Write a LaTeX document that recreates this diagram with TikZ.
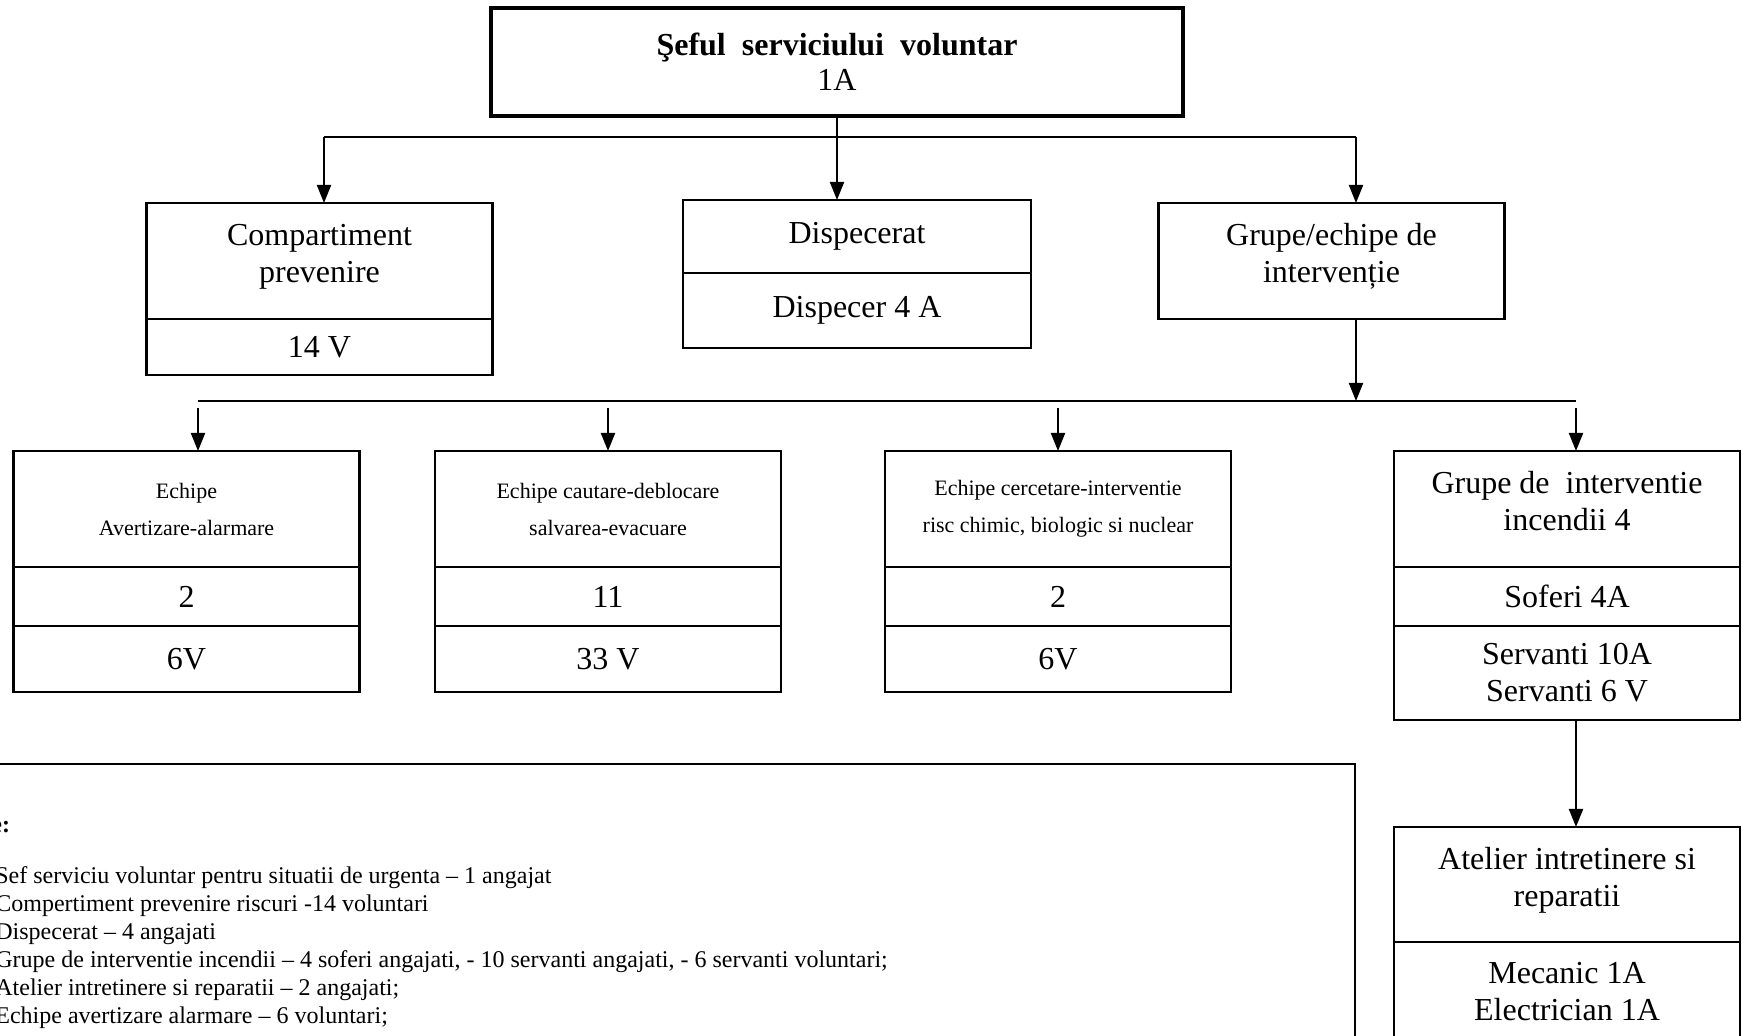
\documentclass[tikz,border=0pt]{standalone}
\usepackage{fontspec}
\setmainfont{Liberation Serif}
\usetikzlibrary{arrows.meta,positioning}
\newcommand{\lowstrut}{\rule[-8pt]{0pt}{0pt}}

\begin{document}
\begin{tikzpicture}
    [
        x=0.5pt, y=-0.5pt,
        Head/.style={rectangle,minimum width=346pt,minimum height=54pt,draw,line width=2pt,align=center,inner sep=0pt,outer sep=0pt,font=\fontsize{16}{17.5}\selectfont},
        Unit/.style={rectangle,minimum width=173pt,draw,line width=1.4pt,align=center,inner sep=0pt,outer sep=0pt,font=\fontsize{16}{18.5}\selectfont},
        Team/.style={Unit,font=\fontsize{11}{18.5}\selectfont},
        Flow/.style={-{Triangle[width=7pt,length=9pt]},line width=1pt},
        Bus/.style={line width=0.9pt},
        Note/.style={anchor=base west,inner sep=0pt,font=\fontsize{12}{14}\selectfont}
    ]
    \useasboundingbox (0,0) rectangle (1742,1036);
    \fill[white] (0,0) rectangle (1742,1036);

    \node[Head] (sef) at (837,62) {\textbf{Şeful~ serviciului~ voluntar}\\1A};

    \node[Unit,minimum height=58pt] (comp) at (319.5,261) {Compartiment\\prevenire\lowstrut};
    \node[Unit,minimum height=28pt,below=0pt of comp] (compNr) {14 V};
    \node[Unit,minimum width=174pt,minimum height=36.5pt] (disp) at (857,236.5) {Dispecerat};
    \node[Unit,minimum width=174pt,minimum height=37.5pt,below=0pt of disp] (dispNr) {Dispecer 4 A};
    \node[Unit,minimum height=58pt] (grupe) at (1331.5,261) {Grupe/echipe de\\intervenție\lowstrut};

    \node[Team,minimum height=58pt] (avert) at (186.5,509) {Echipe\\Avertizare-alarmare};
    \node[Unit,minimum height=29.5pt,below=0pt of avert] (avertNr) {2};
    \node[Unit,minimum height=33pt,below=0pt of avertNr] (avertVol) {6V};
    \node[Team,minimum height=58pt] (cautare) at (608,509) {Echipe cautare-deblocare\\salvarea-evacuare};
    \node[Unit,minimum height=29.5pt,below=0pt of cautare] (cautareNr) {11};
    \node[Unit,minimum height=33pt,below=0pt of cautareNr] (cautareVol) {33 V};
    \node[Team,minimum height=58pt] (cercet) at (1058,509) {Echipe cercetare-interventie\\risc chimic, biologic si nuclear};
    \node[Unit,minimum height=29.5pt,below=0pt of cercet] (cercetNr) {2};
    \node[Unit,minimum height=33pt,below=0pt of cercetNr] (cercetVol) {6V};
    \node[Unit,minimum height=58pt] (incendii) at (1567,509) {Grupe de~ interventie\\incendii 4\lowstrut};
    \node[Unit,minimum height=29.5pt,below=0pt of incendii] (soferi) {Soferi 4A};
    \node[Unit,minimum height=47pt,below=0pt of soferi] (servanti) {Servanti 10A\\Servanti 6 V};

    \node[Unit,minimum height=57.5pt] (atelier) at (1567,884.5) {Atelier intretinere si\\reparatii\lowstrut};
    \node[Unit,minimum height=50pt,below=0pt of atelier] (atelierStaff) {Mecanic 1A\\Electrician 1A};

    \coordinate (busA-west) at (324,137);
    \coordinate (busA-east) at (1356,137);
    \coordinate (busB-west) at (198,401);
    \coordinate (busB-east) at (1576,401);

    \draw[Bus] (busA-west) -- (busA-east);
    \draw[Flow] (sef.south) -- (sef.south |- disp.north);
    \draw[Flow] (busA-west) -- (busA-west |- comp.north);
    \draw[Flow] (busA-east) -- (busA-east |- grupe.north);
    \draw[Flow] (busA-east |- grupe.south) -- (busA-east |- busB-east);
    \draw[Bus] (busB-west) -- (busB-east);
    \draw[Flow] ([yshift=-3.5pt]busB-west) -- (busB-west |- avert.north);
    \draw[Flow] ([yshift=-3.5pt]cautare.north |- busB-west) -- (cautare.north);
    \draw[Flow] ([yshift=-3.5pt]cercet.north |- busB-west) -- (cercet.north);
    \draw[Flow] ([yshift=-3.5pt]busB-east) -- (busB-east |- incendii.north);
    \draw[Flow] (busB-east |- servanti.south) -- (busB-east |- atelier.north);

    \draw[line width=1.2pt] (-20,764) rectangle (1355,1100);
    \node[Note,font=\fontsize{12}{14}\selectfont\bfseries] (legendHead) at (-9,833) {e:};
    \node[Note] (legend1) at (-5,884) {Sef serviciu voluntar pentru situatii de urgenta – 1 angajat};
    \node[Note] (legend2) at (-5,912) {Compertiment prevenire riscuri -14 voluntari};
    \node[Note] (legend3) at (-5,940) {Dispecerat – 4 angajati};
    \node[Note] (legend4) at (-5,968) {Grupe de interventie incendii – 4 soferi angajati, - 10 servanti angajati, - 6 servanti voluntari;};
    \node[Note] (legend5) at (-5,996) {Atelier intretinere si reparatii – 2 angajati;};
    \node[Note] (legend6) at (-5,1024) {Echipe avertizare alarmare – 6 voluntari;};
\end{tikzpicture}
\end{document}
